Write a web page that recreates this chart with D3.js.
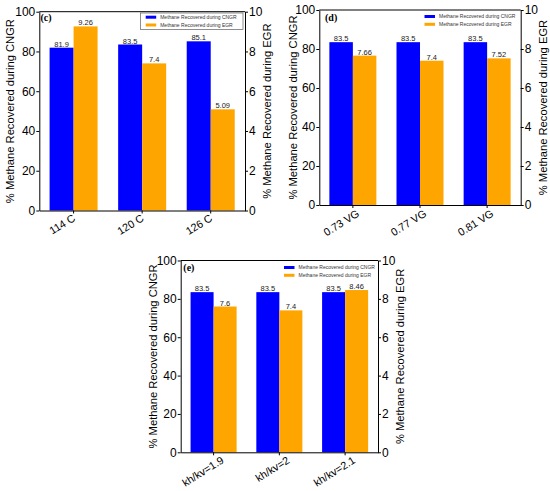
<!DOCTYPE html>
<html>
<head>
<meta charset="utf-8">
<script src="https://cdn.jsdelivr.net/npm/d3@7"></script>
<style>
  html, body { margin: 0; padding: 0; background: #fff; }
  svg { display: block; font-family: "Liberation Sans", Arial, sans-serif; }
</style>
</head>
<body>
<svg id="chart" width="550" height="491"></svg>
<script>
// ---- data ----
const seriesNames = ["Methane Recovered during CNGR", "Methane Recovered during EGR"];
const leftTitle = "% Methane Recovered during CNGR";
const rightTitle = "% Methane Recovered during EGR";
const leftTicks = [0, 20, 40, 60, 80, 100];
const rightTicks = [0, 2, 4, 6, 8, 10];

const categoriesC = ["114 C", "120 C", "126 C"];
const cngrC = [81.9, 83.5, 85.1];
const egrC = [9.26, 7.4, 5.09];

const categoriesD = ["0.73 VG", "0.77 VG", "0.81 VG"];
const cngrD = [83.5, 83.5, 83.5];
const egrD = [7.66, 7.4, 7.52];

const categoriesE = ["kh/kv=1.9", "kh/kv=2", "kh/kv=2.1"];
const cngrE = [83.5, 83.5, 83.5];
const egrE = [7.6, 7.4, 8.46];

const colors = ["#0000ff", "#ffa500"];

// ---- layout ----
const panels = [
  { label: "(c)", cats: categoriesC, a: cngrC, b: egrC,
    l: 39.3, r: 245, t: 11.7, btm: 210.5,
    titleL: 10.5, titleR: 267, labDx: 2.5, labDy: 9.5,
    tagX: 40.5, tagY: 21,
    leg: { x: 145.7, y: 15.7, frame: [140.5, 13, 243, 29.5] } },
  { label: "(d)", cats: categoriesD, a: cngrD, b: egrD,
    l: 319.3, r: 520.7, t: 10, btm: 205,
    titleL: 293.5, titleR: 543, labDx: 7.3, labDy: 10.5,
    tagX: 325, tagY: 20.5,
    leg: { x: 424.5, y: 15, frame: null } },
  { label: "(e)", cats: categoriesE, a: cngrE, b: egrE,
    l: 180.7, r: 378, t: 260.5, btm: 452.3,
    titleL: 153.5, titleR: 400, labDx: 11, labDy: 10,
    tagX: 183.3, tagY: 270.5,
    leg: { x: 284, y: 266, frame: null } }
];

const svg = d3.select("#chart");

panels.forEach(p => {
  const g = svg.append("g");
  const x = d3.scaleBand().domain(p.cats).range([p.l, p.r])
    .paddingInner(0.3).paddingOuter(0.15);
  const xs = d3.scaleBand().domain([0, 1]).range([0, x.bandwidth()]);
  const yL = d3.scaleLinear().domain([0, 100]).range([p.btm, p.t]);
  const yR = d3.scaleLinear().domain([0, 10]).range([p.btm, p.t]);

  // bars
  const rows = p.cats.map((c, i) => ({ c, a: p.a[i], b: p.b[i] }));
  rows.forEach(d => {
    g.append("rect")
      .attr("x", x(d.c) + xs(0)).attr("width", xs.bandwidth())
      .attr("y", yL(d.a)).attr("height", p.btm - yL(d.a))
      .attr("fill", colors[0]);
    g.append("rect")
      .attr("x", x(d.c) + xs(1)).attr("width", xs.bandwidth())
      .attr("y", yR(d.b)).attr("height", p.btm - yR(d.b))
      .attr("fill", colors[1]);
    g.append("text")
      .attr("x", x(d.c) + xs(0) + xs.bandwidth() / 2).attr("y", yL(d.a) - 1)
      .attr("text-anchor", "middle").attr("font-size", 7.5).attr("fill", "#222")
      .text(String(d.a));
    g.append("text")
      .attr("x", x(d.c) + xs(1) + xs.bandwidth() / 2).attr("y", yR(d.b) - 1)
      .attr("text-anchor", "middle").attr("font-size", 7.5).attr("fill", "#222")
      .text(String(d.b));
  });

  // frame top line
  g.append("line").attr("x1", p.l).attr("x2", p.r).attr("y1", p.t).attr("y2", p.t)
    .attr("stroke", "#000").attr("stroke-width", 1);

  // left axis
  const axL = g.append("g").attr("transform", `translate(${p.l},0)`)
    .call(d3.axisLeft(yL).tickValues(leftTicks).tickSize(3).tickPadding(1).tickSizeOuter(0));
  // right axis
  const axR = g.append("g").attr("transform", `translate(${p.r},0)`)
    .call(d3.axisRight(yR).tickValues(rightTicks).tickSize(3).tickPadding(1).tickSizeOuter(0));
  // bottom axis
  const axB = g.append("g").attr("transform", `translate(0,${p.btm})`)
    .call(d3.axisBottom(x).tickSize(3).tickSizeOuter(0));
  [axL, axR, axB].forEach(a => {
    a.selectAll("path, line").attr("stroke", "#000").attr("stroke-width", 1);
    a.selectAll("text").attr("font-size", 12).attr("fill", "#000")
      .attr("font-family", "'Liberation Sans', Arial, sans-serif");
  });
  axB.selectAll("text")
    .attr("font-size", 10.8)
    .attr("text-anchor", "end")
    .attr("dy", null).attr("y", null)
    .attr("transform", `translate(${p.labDx},${p.labDy}) rotate(-32)`);

  // axis titles
  const midY = (p.t + p.btm) / 2;
  g.append("text").attr("transform", `translate(${p.titleL},${midY}) rotate(-90)`)
    .attr("dy", "0.35em").attr("text-anchor", "middle").attr("font-size", 11.2)
    .text(leftTitle);
  g.append("text").attr("transform", `translate(${p.titleR},${midY}) rotate(-90)`)
    .attr("dy", "0.35em").attr("text-anchor", "middle").attr("font-size", 11.2)
    .text(rightTitle);

  // panel tag
  g.append("text").attr("x", p.tagX).attr("y", p.tagY)
    .attr("font-family", "'Liberation Serif', 'Times New Roman', serif")
    .attr("font-weight", "bold").attr("font-size", 10).text(p.label);

  // legend
  const lg = g.append("g");
  if (p.leg.frame) {
    const f = p.leg.frame;
    lg.append("rect").attr("x", f[0]).attr("y", f[1]).attr("width", f[2] - f[0])
      .attr("height", f[3] - f[1]).attr("fill", "none").attr("stroke", "#444").attr("stroke-width", 0.6);
  }
  seriesNames.forEach((s, i) => {
    const yy = p.leg.y + i * 7.8;
    lg.append("rect").attr("x", p.leg.x).attr("y", yy).attr("width", 10.5).attr("height", 3)
      .attr("fill", colors[i]);
    lg.append("text").attr("x", p.leg.x + 14.5).attr("y", yy + 3.2)
      .attr("font-size", 5).attr("fill", "#333").text(s);
  });
});
</script>
</body>
</html>
